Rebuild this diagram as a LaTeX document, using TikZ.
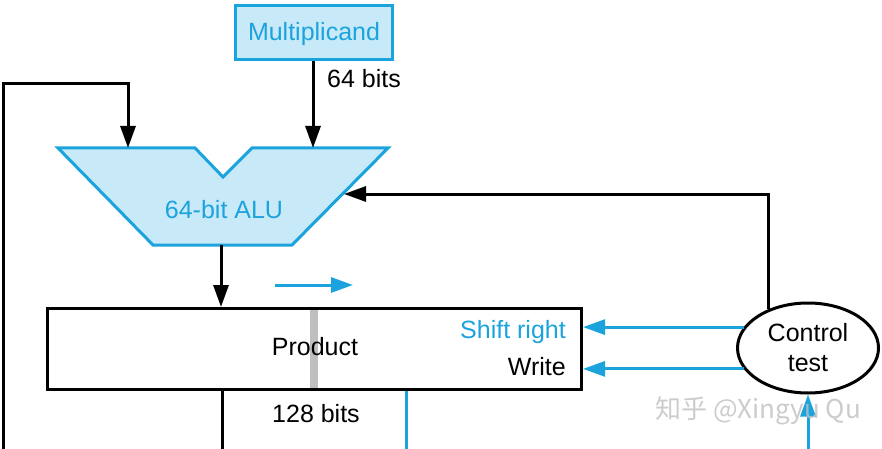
\documentclass[tikz,border=0pt]{standalone}
\usepackage{fontspec}
\setmainfont{Liberation Sans}
\newfontfamily\cjkwm{Noto Sans CJK SC}
\usetikzlibrary{arrows.meta,shapes.geometric}
\definecolor{hwblue}{HTML}{1BA3DE}
\definecolor{hwfill}{HTML}{C8E9F8}

\begin{document}
\begin{tikzpicture}[x=1pt,y=-1pt,
  every node/.style={font=\fontsize{25}{30}\selectfont},
  wire/.style={black, line width=3pt},
  ctlwire/.style={hwblue, line width=3pt},
  arrowed/.style={-{Triangle[length=22pt,width=15pt]}},
  hwunit/.style={draw=hwblue, fill=hwfill, line width=3pt, line join=miter},
  lbl/.style={inner sep=0pt}]
\useasboundingbox (0,0) rectangle (882,449);
\node[hwunit, minimum width=157pt, minimum height=54pt, text height=17pt, text depth=0pt, text=hwblue] (mcand) at (314,32.5) {Multiplicand};
\filldraw[hwunit] (58,148) -- (195,148) -- (223,177) -- (252,148) -- (388,148) -- (292,245) -- (153,245) -- cycle;
\node[lbl, anchor=base, text=hwblue] (alu) at (224,218) {64-bit ALU};
\coordinate (aluL) at (128,148);
\coordinate (aluR) at (313,148);
\coordinate (aluin) at (344,194);
\coordinate (aluout) at (221,245);
\coordinate (loopcorner) at (3,84);
\coordinate (loopbot) at (3,449);
\fill[gray!50] (310,309) rectangle (318,389);
\node[draw, wire, minimum width=534pt, minimum height=81pt] (prod) at (314.5,349) {};
\node[lbl, anchor=base] (prodlbl) at (315,355) {Product};
\node[lbl, anchor=base east, text=hwblue] (shiftlbl) at (566,338) {Shift right};
\node[lbl, anchor=base east] (writelbl) at (566,375) {Write};
\node[lbl, anchor=base west] (mbits) at (327,88) {64 bits};
\node[lbl, anchor=base] (pbits) at (316,422) {128 bits};
\node[draw, wire, ellipse, minimum width=141pt, minimum height=90pt, align=center, inner sep=0pt] (ctrl) at (808,348) {Control\\test};
\coordinate (shfrom) at (275,285);
\coordinate (shto) at (353,285);
\coordinate (prodout) at (222,449);
\coordinate (bitsout) at (406,449);
\coordinate (ctrlin) at (808,449);
\draw[wire, arrowed] (mcand.south -| aluR) -- (aluR);
\draw[wire, arrowed] (loopbot) -- (loopcorner) -| (aluL);
\draw[wire, arrowed] (ctrl.135) |- (aluin);
\draw[wire, arrowed] (aluout) -- (aluout |- prod.north);
\draw[wire] (prod.south -| prodout) -- (prodout);
\draw[ctlwire] (prod.south -| bitsout) -- (bitsout);
\draw[ctlwire, arrowed] (shfrom) -- (shto);
\draw[ctlwire, arrowed] (ctrl.162) -- (ctrl.162 -| prod.east);
\draw[ctlwire, arrowed] (ctrl.198) -- (ctrl.198 -| prod.east);
\draw[ctlwire, arrowed] (ctrlin) -- (ctrl.south);
\node[lbl, anchor=base west, text=gray!50, opacity=0.8, font=\cjkwm\fontsize{26}{30}\selectfont] (wmark) at (655,418) {知乎 @Xingyu Qu};
\end{tikzpicture}
\end{document}
